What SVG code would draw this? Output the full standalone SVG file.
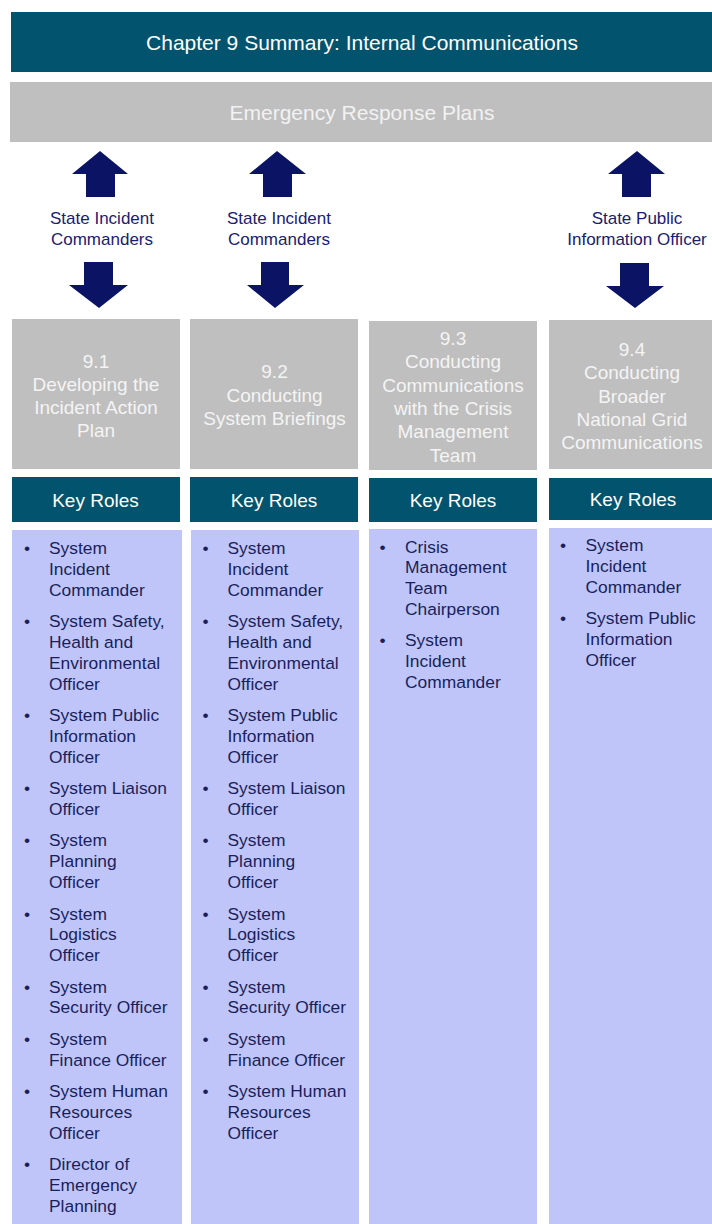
<svg xmlns="http://www.w3.org/2000/svg" width="712" height="1224" viewBox="0 0 712 1224">
<style>
.t{font-family:"Liberation Sans",Arial,sans-serif;text-anchor:middle}
.title{fill:#ffffff;font-size:21px}
.band{fill:#f2f2f2;font-size:21px}
.grey{fill:#bfbfbf}
.teal{fill:#02536d}
.blue{fill:#bfc5f8}
.gt{fill:#f4f4f4;font-size:19px}
.kr{fill:#ffffff;font-size:19px}
.lbl{fill:#1a2070;font-size:17px}
.arrow{fill:#0b1464}
.b{font-family:"Liberation Sans",Arial,sans-serif;fill:#1a1f5c;font-size:17.4px}
</style>
<rect width="712" height="1224" fill="#ffffff"/>
<g id="title">
<rect class="teal" x="11" y="12" width="701" height="60"/>
<text class="t title" x="362" y="49.5">Chapter 9 Summary: Internal Communications</text>
</g>
<g id="erp">
<rect class="grey" x="10" y="82" width="702" height="60"/>
<text class="t band" x="362" y="119.5">Emergency Response Plans</text>
</g>
<g id="connectors">
<polygon class="arrow" points="100,151 128,174 115,174 115,197 86,197 86,174 72,174"/>
<polygon class="arrow" points="84,262 113,262 113,285 128,285 99,308 69,285 84,285"/>
<polygon class="arrow" points="277,151 306,174 292,174 292,197 263,197 263,174 249,174"/>
<polygon class="arrow" points="261,262 289,262 289,285 304,285 275,308 247,285 261,285"/>
<polygon class="arrow" points="637,151 665,174 651,174 651,197 622,197 622,174 608,174"/>
<polygon class="arrow" points="620,263 649,263 649,286 664,286 635,308 606,286 620,286"/>
<text class="t lbl" x="102" y="224">State Incident</text>
<text class="t lbl" x="102" y="244.5">Commanders</text>
<text class="t lbl" x="279" y="224">State Incident</text>
<text class="t lbl" x="279" y="244.5">Commanders</text>
<text class="t lbl" x="637" y="224.3">State Public</text>
<text class="t lbl" x="637" y="245">Information Officer</text>
</g>
<g id="n91">
<rect class="grey" x="12" y="319" width="168" height="150"/>
<text class="t gt" x="96" y="367.5">9.1</text>
<text class="t gt" x="96" y="390.8">Developing the</text>
<text class="t gt" x="96" y="414">Incident Action</text>
<text class="t gt" x="96" y="437">Plan</text>
</g>
<g id="n92">
<rect class="grey" x="190" y="319" width="168" height="150"/>
<text class="t gt" x="274.5" y="378">9.2</text>
<text class="t gt" x="274.5" y="401.5">Conducting</text>
<text class="t gt" x="274.5" y="425">System Briefings</text>
</g>
<g id="n93">
<rect class="grey" x="369" y="321" width="168" height="149"/>
<text class="t gt" x="453" y="345">9.3</text>
<text class="t gt" x="453" y="368.3">Conducting</text>
<text class="t gt" x="453" y="391.7">Communications</text>
<text class="t gt" x="453" y="415">with the Crisis</text>
<text class="t gt" x="453" y="438.3">Management</text>
<text class="t gt" x="453" y="461.5">Team</text>
</g>
<g id="n94">
<rect class="grey" x="549" y="320" width="163" height="149"/>
<text class="t gt" x="632" y="356">9.4</text>
<text class="t gt" x="632" y="379.3">Conducting</text>
<text class="t gt" x="632" y="402.6">Broader</text>
<text class="t gt" x="632" y="425.9">National Grid</text>
<text class="t gt" x="632" y="449.2">Communications</text>
</g>
<g id="kr1">
<rect class="teal" x="12" y="477" width="168" height="45"/>
<text class="t kr" x="95.5" y="506.5">Key Roles</text>
</g>
<g id="kr2">
<rect class="teal" x="190" y="477" width="168" height="45"/>
<text class="t kr" x="274" y="506.5">Key Roles</text>
</g>
<g id="kr3">
<rect class="teal" x="369" y="478" width="168" height="44"/>
<text class="t kr" x="453" y="506.5">Key Roles</text>
</g>
<g id="kr4">
<rect class="teal" x="549" y="478" width="163" height="42"/>
<text class="t kr" x="633" y="506">Key Roles</text>
</g>
<g id="roles1">
<rect class="blue" x="12" y="530" width="170" height="694"/>
<g class="b">
<text x="24" y="554">•</text><text x="49" y="554">System</text><text x="49" y="574.8">Incident</text><text x="49" y="595.6">Commander</text>
<text x="24" y="627.1">•</text><text x="49" y="627.1">System Safety,</text><text x="49" y="647.9">Health and</text><text x="49" y="668.7">Environmental</text><text x="49" y="689.5">Officer</text>
<text x="24" y="721">•</text><text x="49" y="721">System Public</text><text x="49" y="741.8">Information</text><text x="49" y="762.6">Officer</text>
<text x="24" y="794.1">•</text><text x="49" y="794.1">System Liaison</text><text x="49" y="814.9">Officer</text>
<text x="24" y="846.4">•</text><text x="49" y="846.4">System</text><text x="49" y="867.2">Planning</text><text x="49" y="888">Officer</text>
<text x="24" y="919.5">•</text><text x="49" y="919.5">System</text><text x="49" y="940.3">Logistics</text><text x="49" y="961.1">Officer</text>
<text x="24" y="992.6">•</text><text x="49" y="992.6">System</text><text x="49" y="1013.4">Security Officer</text>
<text x="24" y="1044.9">•</text><text x="49" y="1044.9">System</text><text x="49" y="1065.7">Finance Officer</text>
<text x="24" y="1097.2">•</text><text x="49" y="1097.2">System Human</text><text x="49" y="1118">Resources</text><text x="49" y="1138.8">Officer</text>
<text x="24" y="1170.3">•</text><text x="49" y="1170.3">Director of</text><text x="49" y="1191.1">Emergency</text><text x="49" y="1211.9">Planning</text>
</g>
</g>
<g id="roles2">
<rect class="blue" x="191" y="530" width="168" height="694"/>
<g class="b">
<text x="202.5" y="554">•</text><text x="227.5" y="554">System</text><text x="227.5" y="574.8">Incident</text><text x="227.5" y="595.6">Commander</text>
<text x="202.5" y="627.1">•</text><text x="227.5" y="627.1">System Safety,</text><text x="227.5" y="647.9">Health and</text><text x="227.5" y="668.7">Environmental</text><text x="227.5" y="689.5">Officer</text>
<text x="202.5" y="721">•</text><text x="227.5" y="721">System Public</text><text x="227.5" y="741.8">Information</text><text x="227.5" y="762.6">Officer</text>
<text x="202.5" y="794.1">•</text><text x="227.5" y="794.1">System Liaison</text><text x="227.5" y="814.9">Officer</text>
<text x="202.5" y="846.4">•</text><text x="227.5" y="846.4">System</text><text x="227.5" y="867.2">Planning</text><text x="227.5" y="888">Officer</text>
<text x="202.5" y="919.5">•</text><text x="227.5" y="919.5">System</text><text x="227.5" y="940.3">Logistics</text><text x="227.5" y="961.1">Officer</text>
<text x="202.5" y="992.6">•</text><text x="227.5" y="992.6">System</text><text x="227.5" y="1013.4">Security Officer</text>
<text x="202.5" y="1044.9">•</text><text x="227.5" y="1044.9">System</text><text x="227.5" y="1065.7">Finance Officer</text>
<text x="202.5" y="1097.2">•</text><text x="227.5" y="1097.2">System Human</text><text x="227.5" y="1118">Resources</text><text x="227.5" y="1138.8">Officer</text>
</g>
</g>
<g id="roles3">
<rect class="blue" x="369" y="529" width="168" height="695"/>
<g class="b">
<text x="379.5" y="552.5">•</text><text x="405" y="552.5">Crisis</text><text x="405" y="573.3">Management</text><text x="405" y="594.1">Team</text><text x="405" y="614.9">Chairperson</text>
<text x="379.5" y="646.4">•</text><text x="405" y="646.4">System</text><text x="405" y="667.2">Incident</text><text x="405" y="688">Commander</text>
</g>
</g>
<g id="roles4">
<rect class="blue" x="549" y="528" width="163" height="696"/>
<g class="b">
<text x="560" y="551">•</text><text x="585.5" y="551">System</text><text x="585.5" y="571.8">Incident</text><text x="585.5" y="592.6">Commander</text>
<text x="560" y="624.1">•</text><text x="585.5" y="624.1">System Public</text><text x="585.5" y="644.9">Information</text><text x="585.5" y="665.7">Officer</text>
</g>
</g>
</svg>
